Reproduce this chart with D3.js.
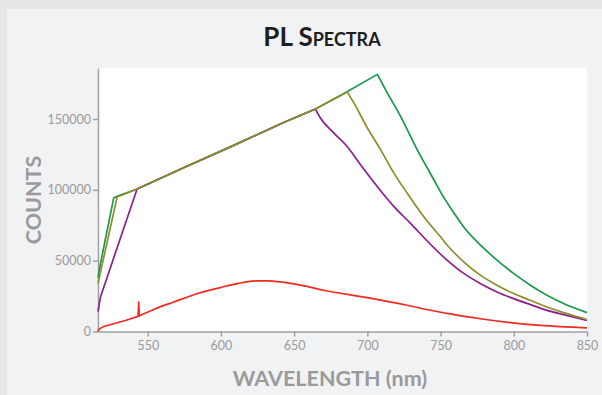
<!DOCTYPE html>
<html><head><meta charset="utf-8">
<script src="https://cdn.jsdelivr.net/npm/d3@7"></script>
<style>
html,body{margin:0;padding:0;background:#e5e6e8;}
svg{display:block;}
</style></head>
<body>
<script>
// ---- data ----
const xTicks = [550, 600, 650, 700, 750, 800, 850];
const yTicks = [0, 50000, 100000, 150000];

const greenWl = [516, 517.7, 526.7, 529, 542.7, 574.5, 608.7, 642.8, 664.5, 686.1, 706.8, 713.4, 722.5, 733.9, 745.3, 751, 758.9, 765.8, 777.1, 788.5, 799.9, 811.3, 822.7, 834, 850];
const greenCounts = [38000, 48000, 94200, 95400, 100600, 115600, 131400, 147500, 157000, 169200, 181500, 168800, 152200, 128600, 107300, 96600, 84000, 73800, 61100, 50400, 41000, 32700, 25600, 19700, 13300];

const oliveWl = [516, 517, 529.1, 542.7, 574.5, 608.7, 642.8, 664.5, 686.3, 690.6, 699.8, 708.9, 718, 727.1, 738.4, 749.8, 754.4, 765.8, 777.1, 788.5, 799.9, 811.3, 822.7, 834, 850];
const oliveCounts = [34000, 38600, 95000, 100600, 115600, 131400, 147500, 157000, 169000, 161700, 144000, 128600, 112000, 97800, 81200, 67000, 61100, 49200, 39800, 32700, 26800, 22000, 17300, 13300, 8500];

const purpleWl = [516, 517.7, 530, 542.7, 574.5, 608.7, 642.8, 664.5, 667.7, 676.8, 685.9, 695.2, 706.6, 718, 729.3, 743, 754.4, 765.8, 777.1, 788.5, 799.9, 811.3, 822.7, 834, 850];
const purpleCounts = [14000, 24400, 62000, 100600, 115600, 131400, 147500, 157000, 151100, 140400, 130900, 117900, 102500, 88300, 76500, 61600, 50400, 41000, 33900, 27900, 23200, 19000, 14900, 11900, 7800];

const redWl = [516, 516.5, 519.9, 534.7, 543.4, 543.8, 544.2, 545, 555.2, 567.7, 583, 599.6, 612, 624.7, 632, 640.6, 654.2, 670.1, 699.8, 727.1, 743, 756.7, 777.1, 818.1, 850];
const redCounts = [0, 1500, 3500, 7800, 10700, 20800, 11000, 11400, 16100, 20800, 26500, 31000, 34000, 35700, 35700, 35000, 32700, 29100, 23900, 18500, 15000, 12400, 9000, 4300, 2600];

const seriesNames = ["green", "purple", "olive", "red"];
const seriesColors = ["#17994c", "#8c1f8e", "#8e8c2c", "#ef2a1f"];
const seriesWl = [greenWl, purpleWl, oliveWl, redWl];
const seriesCounts = [greenCounts, purpleCounts, oliveCounts, redCounts];
// index of the point after which the curve is drawn smoothly
const seriesSplit = [10, 7, 8, 7];

// ---- layout ----
const W = 602, H = 395;
const L = 98, R = 587, T = 68, B = 331.5;

const svg = d3.select("body").append("svg").attr("width", W).attr("height", H);
svg.append("rect").attr("x", 0).attr("y", 0).attr("width", W).attr("height", H).attr("fill", "#e5e6e8");
svg.append("rect").attr("x", 7).attr("y", 9).attr("width", W - 7).attr("height", H - 9).attr("fill", "#f1f2f4");
svg.append("rect").attr("x", L).attr("y", T).attr("width", R - L).attr("height", B - T).attr("fill", "#ffffff");

const x = d3.scaleLinear().domain([516, 850]).range([L, R]);
const y = d3.scaleLinear().domain([0, 186000]).range([B, T]);

const font = "Lato, 'Open Sans', sans-serif";

// title
svg.append("text").attr("x", 322).attr("y", 46).attr("text-anchor", "middle")
  .attr("font-family", font).attr("font-weight", "bold").attr("font-size", 26)
  .attr("fill", "#1e1e1e").style("font-variant", "small-caps").text("PL Spectra");

// axes
const xAxis = d3.axisBottom(x).tickValues(xTicks).tickSize(5).tickSizeOuter(0).tickPadding(5);
const yAxis = d3.axisLeft(y).tickValues(yTicks).tickSize(5).tickSizeOuter(0).tickPadding(2).tickFormat(d3.format("d"));

const gx = svg.append("g").attr("transform", `translate(0,${B})`).call(xAxis);
const gy = svg.append("g").attr("transform", `translate(${L},0)`).call(yAxis);
[gx, gy].forEach(g => {
  g.select(".domain").attr("stroke", "#a0a0a0").attr("stroke-width", 1.5);
  g.selectAll(".tick line").attr("stroke", "#a0a0a0").attr("stroke-width", 1.5);
  g.selectAll(".tick text").attr("fill", "#9a9a9a").attr("font-family", font).attr("font-size", 12.5);
});

// lines
const lineLin = d3.line().x(d => x(d[0])).y(d => y(d[1]));
const lineSmooth = d3.line().x(d => x(d[0])).y(d => y(d[1])).curve(d3.curveMonotoneX);
seriesNames.forEach((n, i) => {
  const pts = seriesWl[i].map((w, j) => [w, seriesCounts[i][j]]);
  const p = seriesSplit[i];
  const d = lineLin(pts.slice(0, p + 1)) + "L" + lineSmooth(pts.slice(p)).slice(1);
  svg.append("path").attr("d", d).attr("fill", "none")
    .attr("stroke", seriesColors[i]).attr("stroke-width", 1.7).attr("stroke-linejoin", "round");
});

// axis labels
svg.append("text").attr("x", 330).attr("y", 386).attr("text-anchor", "middle")
  .attr("font-family", font).attr("font-weight", "bold").attr("font-size", 21.5)
  .attr("fill", "#9a9a9a").text("WAVELENGTH (nm)");
svg.append("text").attr("transform", "translate(41,200) rotate(-90)").attr("text-anchor", "middle")
  .attr("font-family", font).attr("font-weight", "bold").attr("font-size", 21.5)
  .attr("fill", "#9a9a9a").text("COUNTS");
</script>
</body></html>
